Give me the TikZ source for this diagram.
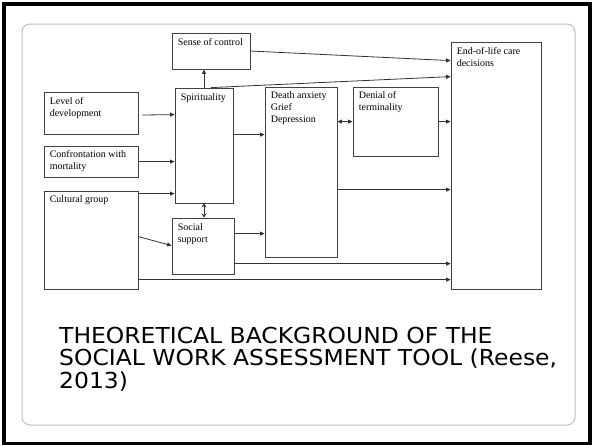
\documentclass[tikz,border=0pt]{standalone}
\usepackage{fontspec}
\setmainfont{Liberation Serif}
\newfontfamily\titlefont[FakeStretch=1.066]{DejaVu Sans}
\usetikzlibrary{arrows.meta,fit}
\tikzset{
  box/.style={draw=black!75, line width=0.8pt, inner sep=0pt, fill=white},
  txt/.style={anchor=north west, inner sep=0pt, align=left, font=\fontsize{10}{12}\selectfont},
  arr/.style={draw=black!80, line width=0.8pt, -{Triangle[length=4.5pt,width=4pt]}},
  darr/.style={draw=black!80, line width=0.8pt, {Triangle[length=4.5pt,width=4pt]}-{Triangle[length=4.5pt,width=4pt]}},
  oarr/.style={draw=black!80, line width=0.7pt, {Stealth[open,length=4pt,width=5pt]}-{Stealth[open,length=4pt,width=5pt]}},
}
\begin{document}
\begin{tikzpicture}[x=1pt,y=-1pt]
\useasboundingbox (0,0) rectangle (592,445);
\fill[white] (0,0) rectangle (592,445);
\draw[line width=3.5pt] (4,4) rectangle (590,443.5);
\draw[draw=black!25, line width=1pt, rounded corners=8pt] (22,24) rectangle (575,425);
% boxes
\node[box, fit={(172,33) (250,69)}] (soc) {};
\node[box, fit={(175,88) (233,203)}] (spi) {};
\node[box, fit={(44,92) (138,134)}] (lod) {};
\node[box, fit={(44,146) (138,177)}] (cwm) {};
\node[box, fit={(44,191) (138,289)}] (cg) {};
\node[box, fit={(172,218) (234,274)}] (ss) {};
\node[box, fit={(265,87) (337,257)}] (dag) {};
\node[box, fit={(353,87) (438,156)}] (den) {};
\node[box, fit={(451,42) (541,289)}] (eol) {};
% texts
\node[txt] (tsoc) at ([xshift=6pt,yshift=-5.5pt]soc.north west) {Sense of control};
\node[txt] (tspi) at ([xshift=6pt,yshift=-5.5pt]spi.north west) {Spirituality};
\node[txt] (tlod) at ([xshift=6pt,yshift=-6pt]lod.north west) {Level of\\development};
\node[txt] (tcwm) at ([xshift=6pt,yshift=-4.5pt]cwm.north west) {Confrontation with\\mortality};
\node[txt] (tcg) at ([xshift=6pt,yshift=-5pt]cg.north west) {Cultural group};
\node[txt] (tss) at ([xshift=6pt,yshift=-6pt]ss.north west) {Social\\support};
\node[txt] (tdag) at ([xshift=6pt,yshift=-5pt]dag.north west) {Death anxiety\\Grief\\Depression};
\node[txt] (tden) at ([xshift=6pt,yshift=-5pt]den.north west) {Denial of\\terminality};
\node[txt] (teol) at ([xshift=6pt,yshift=-6pt]eol.north west) {End-of-life care\\decisions};
% connectors
\draw[arr] (soc.east) -- ([yshift=-19pt]eol.north west);
\draw[arr] ([xshift=7pt]spi.north) -- ([yshift=-35pt]eol.north west);
\draw[arr] (spi.north) -- (spi.north |- soc.south);
\draw[arr] ([xshift=4pt,yshift=-2pt]lod.east) -- ([yshift=-27pt]spi.north west);
\draw[arr] (cwm.east) -- ([yshift=-74pt]spi.north west);
\draw[arr] ([yshift=-3pt]cg.north east) -- ([yshift=-106pt]spi.north west);
\draw[oarr] (spi.south) -- (spi.south |- ss.north);
\draw[arr] ([yshift=-47pt]spi.north east) -- ([yshift=-48pt]dag.north west);
\draw[arr] ([yshift=-46pt]cg.north east) -- ([yshift=-28pt]ss.north west);
\draw[arr] ([yshift=-16pt]ss.north east) -- ([yshift=-147pt]dag.north west);
\draw[arr] ([yshift=-46pt]ss.north east) -- ([yshift=-222pt]eol.north west);
\draw[arr] ([yshift=-89pt]cg.north east) -- ([yshift=-238pt]eol.north west);
\draw[arr] ([yshift=-103pt]dag.north east) -- ([yshift=-148pt]eol.north west);
\draw[darr] ([yshift=-35pt]dag.north east) -- ([yshift=-35pt]den.north west);
\draw[arr] ([yshift=-35pt]den.north east) -- ([yshift=-80pt]eol.north west);
% title
\node[anchor=base west, inner sep=0pt, align=left, font=\titlefont\fontsize{22}{22.5}\selectfont] (title) at (59,388)
  {THEORETICAL BACKGROUND OF THE\\SOCIAL WORK ASSESSMENT TOOL (Reese,\\2013)};
\end{tikzpicture}
\end{document}
